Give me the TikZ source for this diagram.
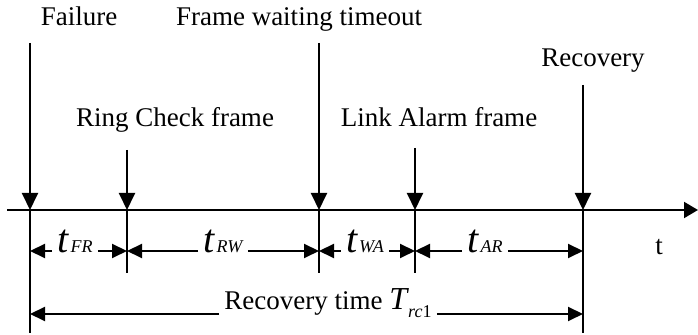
\documentclass[tikz,border=0pt]{standalone}
\usepackage{fontspec}
\setmainfont{Liberation Serif}
\usepackage{tikz}
\usetikzlibrary{arrows.meta}

\newcommand{\tlab}[1]{{\fontsize{20}{20}\selectfont\itshape t}\kern1pt{\fontsize{9}{9}\selectfont\itshape #1}}
\newcommand{\Trc}{{\fontsize{16}{16}\selectfont\itshape T}\kern0.5pt\raisebox{-4pt}{\fontsize{9}{9}\selectfont\itshape rc\upshape 1}}

\begin{document}
\begin{tikzpicture}[x=0.5pt, y=-0.5pt,
	evtarrow/.style={line width=1pt, -{Triangle[width=8pt,length=8.5pt]}},
	evtline/.style={line width=1pt},
	axisarrow/.style={line width=1pt, -{Triangle[width=8pt,length=7pt]}},
	dimarrow/.style={line width=1pt, -{Triangle[width=7pt,length=7.5pt]}},
	evtlabel/.style={anchor=base, inner sep=0pt, font=\fontsize{13.5}{16}\selectfont},
	dimlabel/.style={anchor=base, inner xsep=2.5pt, inner ysep=0pt}]
			\useasboundingbox (0,0) rectangle (698,335);
			% time axis
			\coordinate (axL) at (7,210);
			\coordinate (axR) at (698,210);
			\draw[axisarrow] (axL) -- (axR);
			% events: name/x/top/bottom
			\foreach \n/\x/\top/\bot in {fail/30/43/333, ring/127/150/273, wait/319/43/273, alarm/415/148/273, rec/583/85/333}
			{
				\coordinate (\n T) at (\x,\top);
				\coordinate (\n A) at (\x,210);
				\coordinate (\n B) at (\x,\bot);
				\coordinate (\n D) at (\x,251);
				\coordinate (\n R) at (\x,314);
				\draw[evtarrow] (\n T) -- (\n A);
				\draw[evtline] (\n A) -- (\n B);
			}
			\node[evtlabel] (failLbl) at (79,26) {Failure};
			\node[evtlabel] (waitLbl) at (299,26) {Frame waiting timeout};
			\node[evtlabel] (ringLbl) at (175,127) {Ring Check frame};
			\node[evtlabel] (alarmLbl) at (439,127) {Link Alarm frame};
			\node[evtlabel] (recLbl) at (593,67) {Recovery};
			\node[evtlabel] (tLbl) at (659,255) {t};
			% intervals
			\node[dimlabel] (lFR) at (75,253) {\tlab{FR}};
			\node[dimlabel] (lRW) at (223,253) {\tlab{RW}};
			\node[dimlabel] (lWA) at (365,253) {\tlab{WA}};
			\node[dimlabel] (lAR) at (485,253) {\tlab{AR}};
			\draw[dimarrow] (lFR.west |- failD) -- (failD);
			\draw[dimarrow] (lFR.east |- ringD) -- (ringD);
			\draw[dimarrow] (lRW.west |- ringD) -- (ringD);
			\draw[dimarrow] (lRW.east |- waitD) -- (waitD);
			\draw[dimarrow] (lWA.west |- waitD) -- (waitD);
			\draw[dimarrow] (lWA.east |- alarmD) -- (alarmD);
			\draw[dimarrow] (lAR.west |- alarmD) -- (alarmD);
			\draw[dimarrow] (lAR.east |- recD) -- (recD);
			% total
			\node[dimlabel, font=\fontsize{13.5}{16}\selectfont] (lRec) at (328,310) {Recovery time \Trc};
			\draw[dimarrow] (lRec.west |- failR) -- (failR);
			\draw[dimarrow] (lRec.east |- recR) -- (recR);
		\end{tikzpicture}
\end{document}
